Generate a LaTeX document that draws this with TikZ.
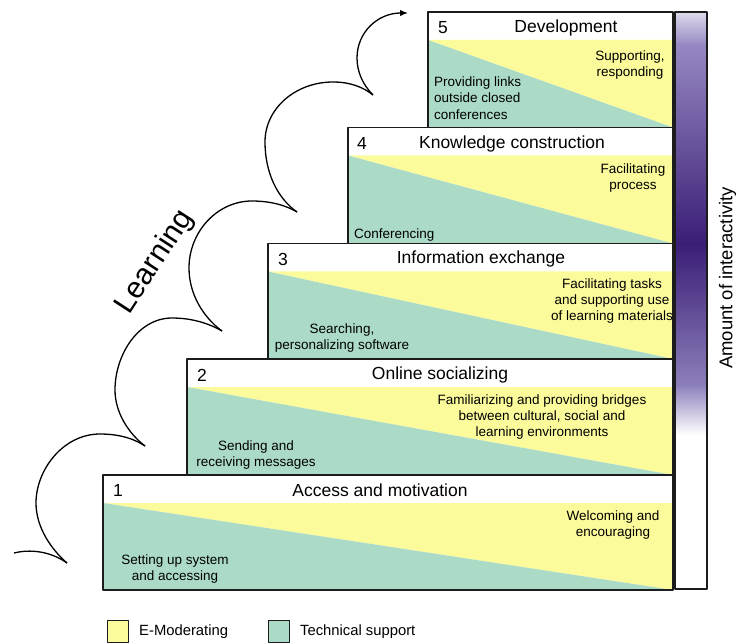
\documentclass[tikz,border=0pt]{standalone}
\usepackage{fontspec}
\setmainfont{Liberation Sans}
\usetikzlibrary{arrows.meta}

\definecolor{emod}{RGB}{251,251,156}
\definecolor{tech}{RGB}{171,219,199}
\definecolor{edge}{RGB}{28,28,28}
\definecolor{lavtop}{RGB}{222,217,234}
\definecolor{lavmid}{RGB}{150,136,194}
\definecolor{violetdeep}{RGB}{58,30,118}
\definecolor{lavlow}{RGB}{140,126,186}

\begin{document}
\begin{tikzpicture}[x=1pt,y=-1pt,line join=round,
  boxline/.style={draw=edge,line width=1.7pt},
  swirl/.style={draw=black,line width=1.3pt},
  title/.style={inner sep=0pt,text=black,font=\fontsize{17.5}{20}\selectfont},
  note/.style={inner sep=0pt,text=black,align=center,font=\fontsize{13.5}{16.3}\selectfont},
  leftnote/.style={note,align=left,anchor=west},
  legbox/.style={draw=edge,line width=0.8pt,minimum width=21pt,minimum height=22pt,inner sep=0pt},
  legtext/.style={inner sep=0pt,anchor=west,font=\fontsize{14.8}{17}\selectfont}]
\useasboundingbox (0,0) rectangle (736,644);

% the five stair blocks: header strip, then a yellow / green split along the diagonal
\foreach \l/\t/\b in {103/475/590, 187/359/475, 268/243.5/359, 348/127.5/243.5, 428/12/127.5}{
  \pgfmathsetmacro{\h}{\t+28}
  \fill[white] (\l,\t) rectangle (673,\h);
  \fill[emod] (\l,\h) -- (673,\h) -- (673,\b) -- cycle;
  \fill[tech] (\l,\h) -- (673,\b) -- (\l,\b) -- cycle;
}
\foreach \l/\t/\b in {103/475/590, 187/359/475, 268/243.5/359, 348/127.5/243.5, 428/12/127.5}{
  \draw[boxline] (\l,\t) rectangle (673,\b);
}

% interactivity bar
\shade[top color=lavtop,bottom color=lavmid] (675,12) rectangle (707,45.5);
\shade[top color=lavmid,bottom color=violetdeep] (675,45) rectangle (707,243.5);
\shade[top color=violetdeep,bottom color=lavlow] (675,243) rectangle (707,385);
\shade[top color=lavlow,bottom color=white] (675,384.5) rectangle (707,435);
\draw[edge,line width=1.4pt] (675,12) rectangle (707,589);
\node[inner sep=0pt,rotate=90,font=\fontsize{18.5}{21}\selectfont] (amount) at (727.5,278) {Amount of interactivity};

% block 5
\node[title] (n5) at (443,28) {5};
\node[title] (t5) at (566,28) {Development};
\node[note] (e5) at (630,65) {Supporting,\\responding};
\node[leftnote] (s5) at (434,98) {Providing links\\outside closed\\conferences};

% block 4
\node[title] (n4) at (362,143.5) {4};
\node[title] (t4) at (512,143.5) {Knowledge construction};
\node[note] (e4) at (633,178) {Facilitating\\process};
\node[leftnote] (s4) at (354,235) {Conferencing};

% block 3
\node[title] (n3) at (283,259) {3};
\node[title] (t3) at (481,259) {Information exchange};
\node[note] (e3) at (612,301) {Facilitating tasks\\and supporting use\\of learning materials};
\node[note] (s3) at (342,338) {Searching,\\personalizing software};

% block 2
\node[title] (n2) at (202,375) {2};
\node[title] (t2) at (440,375) {Online socializing};
\node[note] (e2) at (542,417) {Familiarizing and providing bridges\\between cultural, social and\\learning environments};
\node[note] (s2) at (256,455) {Sending and\\receiving messages};

% block 1
\node[title] (n1) at (118,490.5) {1};
\node[title] (t1) at (380,490.5) {Access and motivation};
\node[note] (e1) at (613,525) {Welcoming and\\encouraging};
\node[note] (s1) at (175,569) {Setting up system\\and accessing};

% learning loops climbing the stairs
\coordinate (tail) at (14,553);
\coordinate (c0) at (67,563);
\coordinate (c1) at (145,446);
\coordinate (c2) at (222,331);
\coordinate (c3) at (297,212);
\coordinate (c4) at (373,95);
\coordinate (tip) at (408,13);
\draw[swirl] (tail) .. controls (30,549) and (50,551) .. (c0);
\draw[swirl] (c0) .. controls (52,550) and (36,528) .. (36,503)
  .. controls (36,470) and (63,434) .. (100,434)
  .. controls (122,434) and (136,440) .. (c1);
\draw[swirl] (c1) .. controls (128,433) and (115,412) .. (115,390)
  .. controls (115,355) and (138,318) .. (172,318)
  .. controls (193,318) and (210,324) .. (c2);
\draw[swirl] (c2) .. controls (203,317) and (189,294) .. (189,268)
  .. controls (189,232) and (217,201) .. (252,201)
  .. controls (272,201) and (287,206) .. (c3);
\draw[swirl] (c3) .. controls (277,198) and (265,172) .. (265,142)
  .. controls (265,108) and (296,82) .. (333,82)
  .. controls (350,82) and (363,87) .. (c4);
\draw[swirl,-{Latex[length=8pt,width=6.5pt]}] (c4) .. controls (363,85) and (357,72) .. (357,58)
  .. controls (357,32) and (378,13) .. (tip);
\node[inner sep=0pt,rotate=57,font=\fontsize{30}{34}\selectfont] (learn) at (155,262) {Learning};

% legend
\node[legbox,fill=emod] (k1) at (118,631) {};
\node[legtext] (l1) at (139,632) {E-Moderating};
\node[legbox,fill=tech] (k2) at (279,631) {};
\node[legtext] (l2) at (300,632) {Technical support};
\end{tikzpicture}
\end{document}
